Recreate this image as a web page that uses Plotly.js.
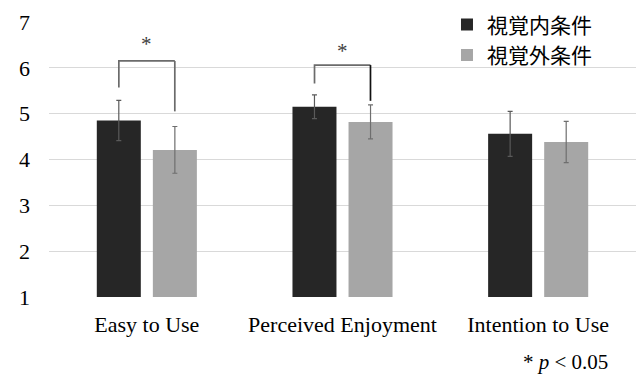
<!DOCTYPE html>
<html lang="en">
<head>
<meta charset="utf-8">
<script src="https://cdn.plot.ly/plotly-3.0.1.min.js"></script>
<style>
  html, body { margin: 0; padding: 0; background: #fff; }
</style>
</head>
<body>
<div id="chart"></div>
<script>
// Measures rated by participants
const categories = ['Easy to Use', 'Perceived Enjoyment', 'Intention to Use'];

// Condition names (legend)
const seriesNames = ['視覚内条件', '視覚外条件'];

// Mean scores and error-bar half-lengths per condition
const insideMeans = [4.85, 5.15, 4.56];
const insideErrors = [0.44, 0.26, 0.49];
const outsideMeans = [4.21, 4.82, 4.38];
const outsideErrors = [0.51, 0.37, 0.45];

// Y axis ticks
const yTicks = [1, 2, 3, 4, 5, 6, 7];

// Significant pairs: category index, bracket heights (left end, top, right end), star height
const sigCategory = [0, 1];
const sigLeftEnd = [5.57, 5.66];
const sigTop = [6.15, 6.06];
const sigRightEnd = [5.05, 5.28];
const sigStarY = [6.52, 6.37];

const serifFamily = 'Liberation Serif';
const cjkFamily = 'Noto Sans CJK JP';

const traces = [
  {
    type: 'bar',
    name: seriesNames[0],
    x: categories,
    y: insideMeans,
    marker: { color: '#262626' },
    error_y: { type: 'data', array: insideErrors, visible: true, color: '#5a5a5a', thickness: 1.2, width: 2.5 }
  },
  {
    type: 'bar',
    name: seriesNames[1],
    x: categories,
    y: outsideMeans,
    marker: { color: '#a6a6a6' },
    error_y: { type: 'data', array: outsideErrors, visible: true, color: '#6e6e6e', thickness: 1.2, width: 2.5 }
  }
];

// Offset of each bar centre from its category centre (category units)
const barOffset = 0.143;

const shapes = [
  // white panel behind the legend, over the gridlines
  { type: 'rect', xref: 'paper', yref: 'paper', x0: 0.611, x1: 1.02, y0: 0.80, y1: 1.05,
    fillcolor: '#ffffff', line: { width: 0 }, layer: 'between' }
];
const annotations = [];

sigCategory.forEach((c, i) => {
  const xl = c - barOffset;
  const xr = c + barOffset;
  shapes.push({
    type: 'path', xref: 'x', yref: 'y',
    path: `M ${xl},${sigLeftEnd[i]} L ${xl},${sigTop[i]} L ${xr},${sigTop[i]}`,
    line: { color: '#6b6b6b', width: 1.7 }, layer: 'above'
  });
  shapes.push({
    type: 'line', xref: 'x', yref: 'y',
    x0: xr, x1: xr, y0: sigTop[i], y1: sigRightEnd[i],
    line: { color: i === 1 ? '#111111' : '#6b6b6b', width: 1.7 }, layer: 'above'
  });
  annotations.push({
    xref: 'x', yref: 'y', x: c, y: sigStarY[i], text: '*', showarrow: false,
    font: { family: serifFamily, size: 21, color: '#404040' }
  });
});

annotations.push({
  xref: 'paper', yref: 'paper', x: 0.956, y: -0.238, xanchor: 'right', yanchor: 'middle',
  text: '* <i>p</i> < 0.05', showarrow: false,
  font: { family: serifFamily, size: 21, color: '#000000' }
});

const layout = {
  width: 641,
  height: 374,
  margin: { l: 49, r: 5, t: 21, b: 77 },
  paper_bgcolor: '#ffffff',
  plot_bgcolor: '#ffffff',
  font: { family: serifFamily, color: '#000000' },
  barmode: 'group',
  bargap: 0.427,
  bargroupgap: 0.215,
  showlegend: true,
  legend: {
    x: 0.678, y: 1.06, xanchor: 'left', yanchor: 'top',
    bgcolor: 'rgba(0,0,0,0)',
    font: { family: cjkFamily, size: 21, color: '#000000' },
    itemwidth: 30,
    tracegroupgap: 0
  },
  xaxis: {
    type: 'category',
    range: [-0.5, 2.5],
    showgrid: false,
    zeroline: false,
    showline: false,
    ticks: '',
    ticklabelstandoff: 12,
    tickfont: { family: serifFamily, size: 22, color: '#000000' }
  },
  yaxis: {
    range: [1, 7],
    tickvals: yTicks,
    ticktext: yTicks.map(String),
    showgrid: true,
    gridcolor: '#d9d9d9',
    gridwidth: 1,
    zeroline: false,
    showline: false,
    ticks: '',
    ticklabelstandoff: 18,
    tickfont: { family: serifFamily, size: 22, color: '#000000' }
  },
  shapes: shapes,
  annotations: annotations
};

Plotly.newPlot('chart', traces, layout, { displayModeBar: false });
</script>
</body>
</html>
